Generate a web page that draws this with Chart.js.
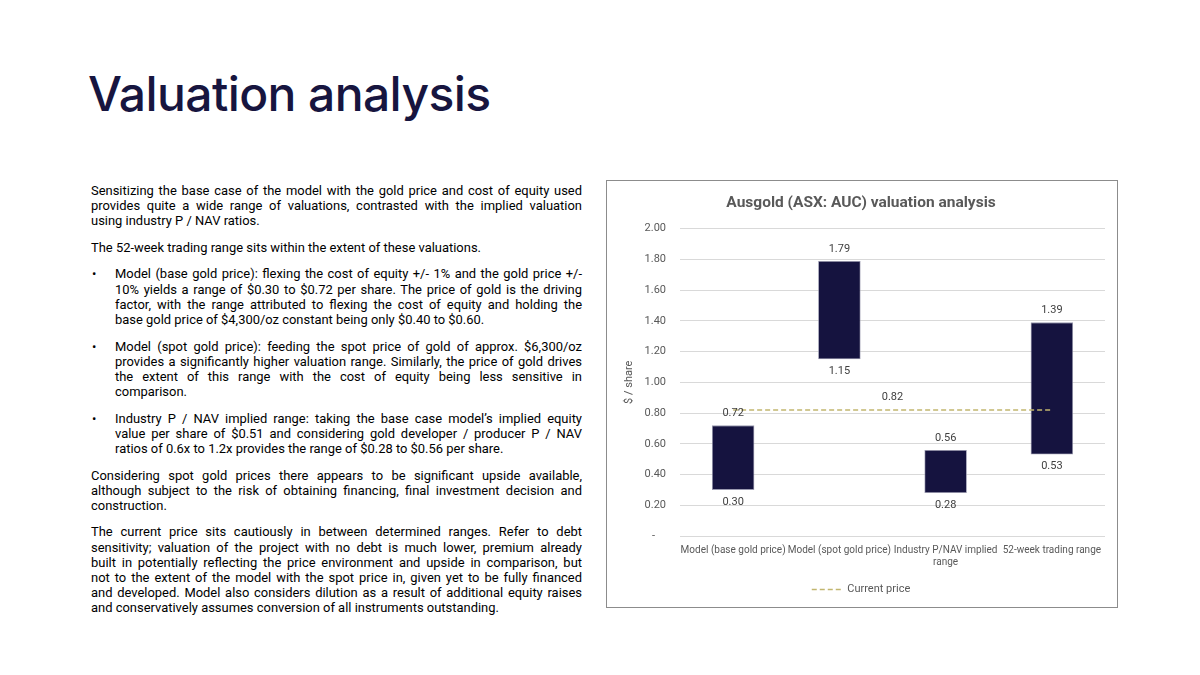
<!DOCTYPE html>
<html>
<head>
<meta charset="utf-8">
<script src="https://cdn.jsdelivr.net/npm/chart.js@4.4.1/dist/chart.umd.min.js"></script>
<style>
  html, body { margin: 0; padding: 0; background: #fff; }
  body { width: 1200px; height: 675px; position: relative; overflow: hidden; font-family: Roboto, 'Noto Sans', sans-serif; color: #000; }
  #title { position: absolute; left: 88px; top: 64px; font-family: Inter, Roboto, sans-serif; font-size: 48px; font-weight: 500; line-height: 60px; color: #17153f; letter-spacing: -0.6px; white-space: nowrap; }
  #text { position: absolute; left: 91px; top: 183px; width: 491px; font-size: 13px; line-height: 15.2px; }
  .para { margin: 0 0 11.3px 0; }
  .para.bullet { position: relative; padding-left: 24px; }
  .para.bullet::before { content: '\2022'; position: absolute; left: 1px; top: 0; }
  .ln { white-space: nowrap; text-align: justify; text-align-last: justify; }
  .ln.last { text-align-last: left; }
  #box { position: absolute; left: 606px; top: 180px; width: 510px; height: 426px; border: 1px solid #8c8c8c; }
  #chart { display: block; }
</style>
</head>
<body>
<div id="title">Valuation analysis</div>
<div id="text"></div>
<div id="box"><canvas id="chart" width="510" height="426"></canvas></div>
<script>
// slide text, one entry per line as in the original
const paragraphs = [
  { bullet: false, lines: [
    'Sensitizing the base case of the model with the gold price and cost of equity used',
    'provides quite a wide range of valuations, contrasted with the implied valuation',
    'using industry P / NAV ratios.'] },
  { bullet: false, lines: [
    'The 52-week trading range sits within the extent of these valuations.'] },
  { bullet: true, lines: [
    'Model (base gold price): flexing the cost of equity +/- 1% and the gold price +/-',
    '10% yields a range of $0.30 to $0.72 per share. The price of gold is the driving',
    'factor, with the range attributed to flexing the cost of equity and holding the',
    'base gold price of $4,300/oz constant being only $0.40 to $0.60.'] },
  { bullet: true, lines: [
    'Model (spot gold price): feeding the spot price of gold of approx. $6,300/oz',
    'provides a significantly higher valuation range. Similarly, the price of gold drives',
    'the extent of this range with the cost of equity being less sensitive in',
    'comparison.'] },
  { bullet: true, lines: [
    'Industry P / NAV implied range: taking the base case model\u2019s implied equity',
    'value per share of $0.51 and considering gold developer / producer P / NAV',
    'ratios of 0.6x to 1.2x provides the range of $0.28 to $0.56 per share.'] },
  { bullet: false, lines: [
    'Considering spot gold prices there appears to be significant upside available,',
    'although subject to the risk of obtaining financing, final investment decision and',
    'construction.'] },
  { bullet: false, lines: [
    'The current price sits cautiously in between determined ranges. Refer to debt',
    'sensitivity; valuation of the project with no debt is much lower, premium already',
    'built in potentially reflecting the price environment and upside in comparison, but',
    'not to the extent of the model with the spot price in, given yet to be fully financed',
    'and developed. Model also considers dilution as a result of additional equity raises',
    'and conservatively assumes conversion of all instruments outstanding.'] }
];

const textBox = document.getElementById('text');
paragraphs.forEach(p => {
  const el = document.createElement('div');
  el.className = 'para' + (p.bullet ? ' bullet' : '');
  p.lines.forEach((t, i) => {
    const ln = document.createElement('div');
    ln.className = 'ln' + (i === p.lines.length - 1 ? ' last' : '');
    const sp = document.createElement('span');
    sp.textContent = t;
    ln.appendChild(sp);
    el.appendChild(ln);
  });
  textBox.appendChild(el);
});
// shrink the font until the widest line fits, then let justify spread them
let fit = 1;
document.querySelectorAll('.ln').forEach(ln => {
  const w = ln.firstChild.getBoundingClientRect().width;
  fit = Math.min(fit, ln.clientWidth / w);
});
textBox.style.fontSize = (13 * fit - 0.05) + 'px';

// chart data
const categories = [
  'Model (base gold price)',
  'Model (spot gold price)',
  ['Industry P/NAV implied', 'range'],
  '52-week trading range'
];
const rangeLow = [0.30, 1.15, 0.28, 0.53];
const rangeHigh = [0.72, 1.79, 0.56, 1.39];
const currentPrice = [0.82, 0.82, 0.82, 0.82];

const barColor = '#15133f';
const lineColor = '#c2b66f';
const greyText = '#595959';

const rangeLabels = {
  id: 'rangeLabels',
  afterDatasetsDraw(chart) {
    const ctx = chart.ctx;
    const y = chart.scales.y;
    ctx.save();
    ctx.font = '11px Roboto';
    ctx.fillStyle = '#404040';
    ctx.textAlign = 'center';
    ctx.textBaseline = 'middle';
    chart.getDatasetMeta(1).data.forEach((bar, i) => {
      ctx.fillText(rangeHigh[i].toFixed(2), bar.x, y.getPixelForValue(rangeHigh[i]) - 12);
      ctx.fillText(rangeLow[i].toFixed(2), bar.x, y.getPixelForValue(rangeLow[i]) + 12);
    });
    const pts = chart.getDatasetMeta(0).data;
    ctx.fillText(currentPrice[1].toFixed(2), (pts[1].x + pts[2].x) / 2, pts[1].y - 13);
    ctx.restore();
  }
};

new Chart(document.getElementById('chart'), {
  type: 'bar',
  data: {
    labels: categories,
    datasets: [
      {
        type: 'line',
        label: 'Current price',
        data: currentPrice,
        borderColor: lineColor,
        backgroundColor: lineColor,
        borderWidth: 1.5,
        borderDash: [5, 3],
        pointRadius: 0,
        pointStyle: 'line',
        fill: false
      },
      {
        label: 'Range',
        data: rangeLow.map((lo, i) => [lo, rangeHigh[i]]),
        backgroundColor: barColor,
        borderColor: '#9a9ab0',
        borderWidth: 0.8,
        borderSkipped: false,
        barPercentage: 0.4,
        categoryPercentage: 1
      }
    ]
  },
  options: {
    responsive: false,
    animation: false,
    layout: { padding: { left: 10, right: 12, top: 0, bottom: 2 } },
    plugins: {
      title: {
        display: true,
        text: 'Ausgold (ASX: AUC) valuation analysis',
        color: greyText,
        font: { family: 'Roboto', size: 15.5, weight: 'bold' },
        padding: { top: 13, bottom: 16 }
      },
      legend: {
        position: 'bottom',
        labels: {
          filter: item => {
            if (item.datasetIndex !== 0) return false;
            item.lineDash = [5, 3];
            item.lineWidth = 1.5;
            item.strokeStyle = lineColor;
            return true;
          },
          usePointStyle: true,
          pointStyleWidth: 30,
          color: greyText,
          font: { family: 'Roboto', size: 11 },
          padding: 8
        }
      },
      tooltip: { enabled: false }
    },
    scales: {
      x: {
        grid: { display: false },
        border: { display: false },
        ticks: {
          color: greyText,
          font: { family: 'Roboto', size: 10 },
          maxRotation: 0,
          autoSkip: false,
          padding: 0
        },
        afterFit: s => { s.height = 40; }
      },
      y: {
        min: 0,
        max: 2,
        grid: { color: '#d9d9d9', drawTicks: false },
        border: { display: false },
        ticks: {
          stepSize: 0.2,
          color: greyText,
          font: { family: 'Roboto', size: 11 },
          padding: 14,
          // accounting style: zero shows as a dash set in from the right
          callback: v => (Math.abs(v) < 1e-9 ? '-    ' : v.toFixed(2))
        },
        title: {
          display: true,
          text: '$ / share',
          color: greyText,
          font: { family: 'Roboto', size: 11 },
          padding: { top: 6, bottom: 0 }
        },
        afterFit: s => { s.width = 63; }
      }
    }
  },
  plugins: [rangeLabels]
});
</script>
</body>
</html>
